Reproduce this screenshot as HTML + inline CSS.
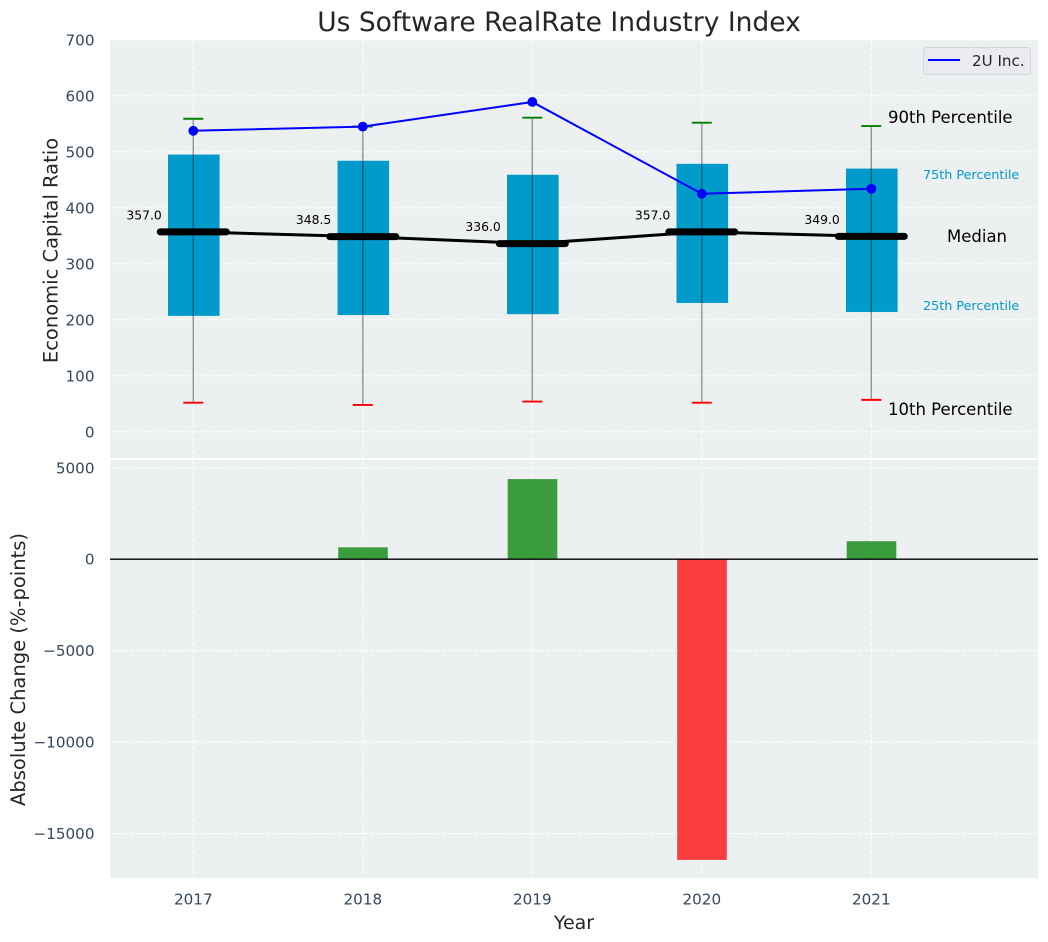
<!DOCTYPE html>
<html>
<head>
<meta charset="utf-8">
<title>Us Software RealRate Industry Index</title>
<style>
html,body{margin:0;padding:0;background:#fff;width:1048px;height:942px;overflow:hidden}
svg{display:block}
text{font-family:"DejaVu Sans","Liberation Sans",sans-serif}
</style>
</head>
<body>
<svg id="chart" xmlns="http://www.w3.org/2000/svg" width="1048" height="942" viewBox="0 0 1048 942"></svg>
<script>
const years = ['2017', '2018', '2019', '2020', '2021'];
const p10 = [52, 48, 54, 52, 57];
const p25 = [207, 208.5, 210, 230, 214];
const medians = [357, 348.5, 336, 357, 349];
const p75 = [495, 484, 459, 478.5, 470];
const p90 = [559, 545, 561, 552, 546];
const company = [537.5, 545, 589, 425, 434];
const absChange = [null, 650, 4380, -16440, 985];
const topTicks = [0, 100, 200, 300, 400, 500, 600, 700];
const bottomTicks = [-15000, -10000, -5000, 0, 5000];
const medianLabels = ['357.0', '348.5', '336.0', '357.0', '349.0'];

const NS = 'http://www.w3.org/2000/svg';
const svg = document.getElementById('chart');
const L = 110, R = 1038, T1 = 40, B1 = 458, T2 = 460, B2 = 878;
const xS = i => 193.3 + 169.5 * i;
const y1 = v => 431.8 - v * 0.56;
const y2 = v => 559.2 - v * 0.01829;

function make(tag, attrs, txt, name) {
  const el = document.createElementNS(NS, tag);
  for (const k in attrs) el.setAttribute(k, attrs[k]);
  if (txt !== undefined && txt !== null) el.textContent = txt;
  
  
  svg.appendChild(el);
  return el;
}
const fmt = v => (v < 0 ? '\u2212' + Math.abs(v) : String(v));

make('text', {x: 559, y: 31, 'text-anchor': 'middle', 'font-size': 26.5, fill: '#262626'}, 'Us Software RealRate Industry Index', 'chart-title');

make('rect', {x: L, y: T1, width: R - L, height: B1 - T1, fill: '#ecf0f1'}, null, 'top-plot-area');
make('rect', {x: L, y: T2, width: R - L, height: B2 - T2, fill: '#ecf0f1'}, null, 'bottom-plot-area');

const gridStyle = {stroke: '#ffffff', 'stroke-width': 1.1, 'stroke-dasharray': '4.5 2', 'stroke-opacity': 0.9};

topTicks.forEach(t => {
  make('line', Object.assign({x1: L, x2: R, y1: y1(t), y2: y1(t)}, gridStyle), null, 'top-y-gridline');
  make('text', {x: 94.5, y: y1(t) + 5.5, 'text-anchor': 'end', 'font-size': 15.2, fill: '#34495e'}, fmt(t), 'top-y-tick-label');
});
bottomTicks.forEach(t => {
  make('line', Object.assign({x1: L, x2: R, y1: y2(t), y2: y2(t)}, gridStyle), null, 'bottom-y-gridline');
  make('text', {x: 94.5, y: y2(t) + 5.5, 'text-anchor': 'end', 'font-size': 15.2, fill: '#34495e'}, fmt(t), 'bottom-y-tick-label');
});
years.forEach((yr, i) => {
  make('line', Object.assign({x1: xS(i), x2: xS(i), y1: T1, y2: B1}, gridStyle), null, 'top-x-gridline');
  make('line', Object.assign({x1: xS(i), x2: xS(i), y1: T2, y2: B2}, gridStyle), null, 'bottom-x-gridline');
  make('text', {x: xS(i), y: 904.5, 'text-anchor': 'middle', 'font-size': 15.2, fill: '#34495e'}, yr, 'x-tick-label');
});

/* interquartile boxes */
years.forEach((yr, i) => {
  make('rect', {x: xS(i) - 25.3, y: y1(p75[i]), width: 51.6, height: y1(p25[i]) - y1(p75[i]), fill: '#009bcb'}, null, 'box-' + yr);
});
/* whiskers and caps */
years.forEach((yr, i) => {
  make('line', {x1: xS(i), x2: xS(i), y1: y1(p10[i]), y2: y1(p90[i]), stroke: '#000', 'stroke-opacity': 0.4, 'stroke-width': 1.4}, null, 'whisker-' + yr);
  make('line', {x1: xS(i) - 10, x2: xS(i) + 10, y1: y1(p90[i]), y2: y1(p90[i]), stroke: '#008000', 'stroke-width': 1.9}, null, 'cap-90th-' + yr);
  make('line', {x1: xS(i) - 10, x2: xS(i) + 10, y1: y1(p10[i]), y2: y1(p10[i]), stroke: '#ff0000', 'stroke-width': 1.9}, null, 'cap-10th-' + yr);
});
/* median connecting line */
make('polyline', {points: medians.map((m, i) => xS(i) + ',' + y1(m)).join(' '), fill: 'none', stroke: '#000', 'stroke-width': 3}, null, 'median-line');
years.forEach((yr, i) => {
  make('line', {x1: xS(i) - 33, x2: xS(i) + 33, y1: y1(medians[i]), y2: y1(medians[i]), stroke: '#000', 'stroke-width': 7, 'stroke-linecap': 'round'}, null, 'median-marker-' + yr);
  make('text', {x: xS(i) - 31.5, y: y1(medians[i]) - 12.5, 'text-anchor': 'end', 'font-size': 12.4, fill: '#000'}, medianLabels[i], 'median-label-' + yr);
});
/* company line */
make('polyline', {points: company.map((v, i) => xS(i) + ',' + y1(v)).join(' '), fill: 'none', stroke: '#0000ff', 'stroke-width': 2}, null, 'company-line');
years.forEach((yr, i) => {
  make('circle', {cx: xS(i), cy: y1(company[i]), r: 4.9, fill: '#0000ff'}, null, 'company-point-' + yr);
});

/* annotations */
make('text', {x: 888, y: 123, 'font-size': 16.5, fill: '#000'}, '90th Percentile', 'annotation-90th');
make('text', {x: 923, y: 179, 'font-size': 12.75, fill: '#009acd'}, '75th Percentile', 'annotation-75th');
make('text', {x: 947, y: 242, 'font-size': 16.5, fill: '#000'}, 'Median', 'annotation-median');
make('text', {x: 923, y: 310, 'font-size': 12.75, fill: '#009acd'}, '25th Percentile', 'annotation-25th');
make('text', {x: 888, y: 415, 'font-size': 16.5, fill: '#000'}, '10th Percentile', 'annotation-10th');

/* legend */
make('rect', {x: 923.5, y: 47.5, width: 107, height: 27, rx: 3, fill: '#e9ebf1', stroke: '#d4d6da', 'stroke-width': 1}, null, 'legend-box');
make('line', {x1: 928, x2: 960, y1: 60, y2: 60, stroke: '#0000ff', 'stroke-width': 2}, null, 'legend-line');
make('text', {x: 972, y: 66, 'font-size': 15.1, fill: '#262626'}, '2U Inc.', 'legend-label');

/* change bars */
years.forEach((yr, i) => {
  const v = absChange[i];
  if (v === null) return;
  const top = Math.min(y2(v), y2(0));
  make('rect', {x: xS(i) - 24.6, y: top, width: 49.6, height: Math.abs(y2(v) - y2(0)), fill: v >= 0 ? '#008000' : '#ff0000', 'fill-opacity': 0.75}, null, 'change-bar-' + yr);
});
make('line', {x1: L, x2: R, y1: y2(0), y2: y2(0), stroke: '#000', 'stroke-width': 1.3}, null, 'zero-line');

/* axis titles */
make('text', {x: 0, y: 0, transform: 'translate(57.5,250.5) rotate(-90)', 'text-anchor': 'middle', 'font-size': 19.5, fill: '#262626'}, 'Economic Capital Ratio', 'top-y-axis-title');
make('text', {x: 0, y: 0, transform: 'translate(25,669.5) rotate(-90)', 'text-anchor': 'middle', 'font-size': 19.5, fill: '#262626'}, 'Absolute Change (%-points)', 'bottom-y-axis-title');
make('text', {x: 574, y: 929, 'text-anchor': 'middle', 'font-size': 19, fill: '#262626'}, 'Year', 'x-axis-title');
</script>
</body>
</html>
